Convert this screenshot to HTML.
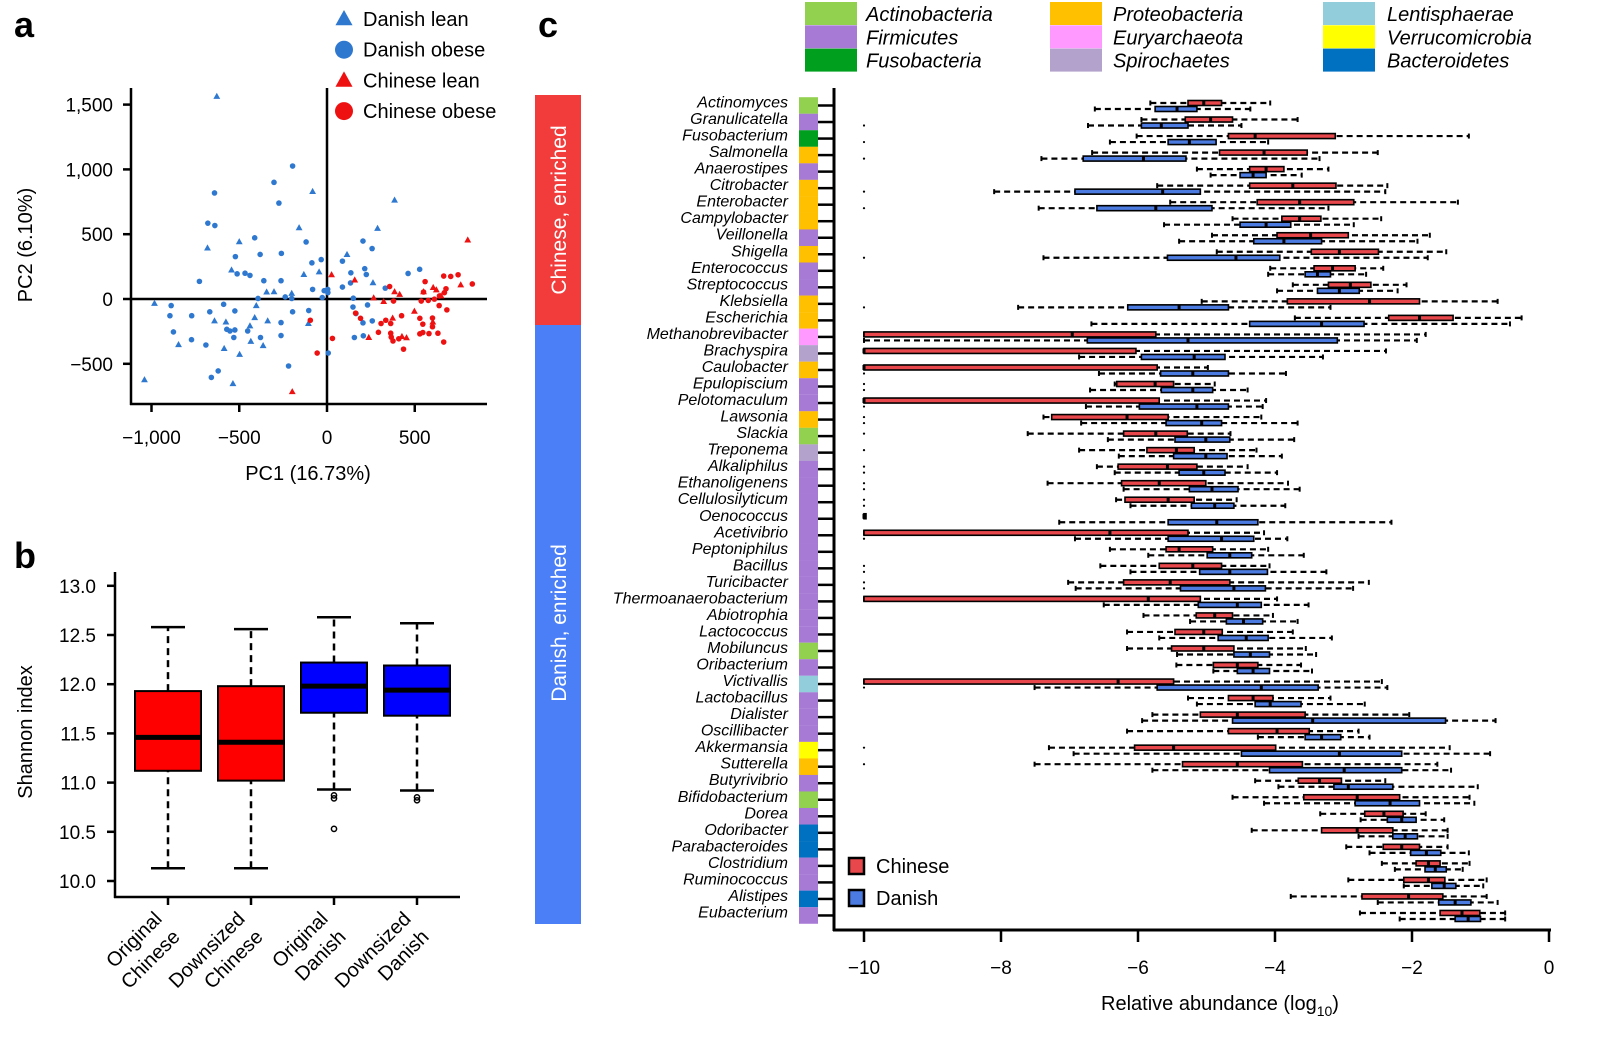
<!DOCTYPE html>
<html><head><meta charset="utf-8"><style>
html,body{margin:0;padding:0;background:#fff;}
svg{display:block;font-family:"Liberation Sans",sans-serif;}
</style></head><body>
<svg id="fig" width="1619" height="1063" viewBox="0 0 1619 1063" xmlns="http://www.w3.org/2000/svg">
<text x="14" y="37" font-size="36" font-weight="bold">a</text>
<text x="14" y="568" font-size="36" font-weight="bold">b</text>
<text x="538" y="37" font-size="36" font-weight="bold">c</text>
<g id="pa"></g>
<g id="pb"></g>
<g id="pc"></g>
</svg>
<script>
const NS="http://www.w3.org/2000/svg";
function mk(parent,tag,attrs,txt){const e=document.createElementNS(NS,tag);for(const k in attrs)e.setAttribute(k,attrs[k]);if(txt!==undefined)e.textContent=txt;parent.appendChild(e);return e;}

/* ---------- Panel a data ---------- */
const danishLean=[[-628,1564],[-82,830],[385,763],[-159,550],[288,545],[-500,442],[-681,394],[114,344],[-544,224],[-132,189],[-45,209],[262,126],[-344,54],[-302,56],[-201,44],[-983,-34],[-403,-51],[-641,-169],[-576,-177],[-412,-144],[-338,-169],[-439,-207],[-106,-189],[-846,-352],[-586,-382],[-434,-327],[-364,-360],[-498,-427],[-1040,-623],[-536,-653]];
const danishObese=[[-196,1026],[-302,900],[-641,818],[-274,740],[-679,585],[-639,567],[-412,472],[-119,440],[205,447],[-522,327],[-381,344],[-260,352],[257,389],[-86,279],[-33,304],[88,292],[-727,136],[-512,194],[-467,199],[-439,182],[-360,141],[-262,141],[136,202],[215,234],[224,189],[462,197],[528,229],[-82,74],[-16,64],[4,74],[5,49],[88,92],[134,124],[332,84],[-238,16],[-201,4],[-27,11],[-393,4],[150,6],[-888,-51],[-589,-41],[-525,-92],[-668,-99],[-895,-129],[-771,-129],[-196,-99],[-104,-89],[148,-62],[231,-46],[165,-112],[-875,-254],[-772,-314],[-690,-355],[-571,-234],[-553,-247],[-525,-239],[-452,-247],[-531,-297],[-379,-297],[-262,-182],[-262,-282],[205,-184],[258,-169],[156,-297],[207,-284],[7,-417],[-219,-517],[-659,-605],[-620,-555]];
const chineseLean=[[26,187],[158,147],[385,56],[414,36],[266,9],[323,-19],[802,455],[762,109],[605,89],[623,71],[550,56],[650,24],[498,-94],[374,-147],[603,-177],[238,-297],[427,-289],[453,-299],[-198,-715]];
const chineseObese=[[-95,-164],[31,-304],[-56,-417],[163,-109],[191,-149],[357,96],[379,-16],[425,-129],[308,-189],[335,-164],[363,-189],[293,-257],[363,-264],[366,-294],[376,-324],[409,-307],[436,-387],[559,134],[665,177],[705,174],[747,187],[828,116],[678,79],[669,49],[550,54],[537,-16],[577,-11],[612,-1],[639,-51],[683,-84],[529,-149],[546,-194],[601,-147],[601,-214],[529,-269],[546,-259],[581,-267],[632,-264],[665,-332],[641,24]];
const pcaXTicks=[-1000,-500,0,500];
const pcaXTickLabels=["\u22121,000","\u2212500","0","500"];
const pcaYTicks=[-500,0,500,1000,1500];
const pcaYTickLabels=["\u2212500","0","500","1,000","1,500"];

/* ---------- Panel b data ---------- */
const shannonGroups=["Original Chinese","Downsized Chinese","Original Danish","Downsized Danish"];
const shannonLine1=["Original","Downsized","Original","Downsized"];
const shannonLine2=["Chinese","Chinese","Danish","Danish"];
const shannonStats=[[10.13,11.12,11.46,11.93,12.58],[10.13,11.02,11.41,11.98,12.56],[10.93,11.71,11.98,12.22,12.68],[10.92,11.68,11.94,12.19,12.62]];
const shannonOutliers=[[],[],[10.87,10.84,10.53],[10.85,10.82]];
const shannonYTicks=[10.0,10.5,11.0,11.5,12.0,12.5,13.0];

/* ---------- Panel c data ---------- */
const genera=["Actinomyces","Granulicatella","Fusobacterium","Salmonella","Anaerostipes","Citrobacter","Enterobacter","Campylobacter","Veillonella","Shigella","Enterococcus","Streptococcus","Klebsiella","Escherichia","Methanobrevibacter","Brachyspira","Caulobacter","Epulopiscium","Pelotomaculum","Lawsonia","Slackia","Treponema","Alkaliphilus","Ethanoligenens","Cellulosilyticum","Oenococcus","Acetivibrio","Peptoniphilus","Bacillus","Turicibacter","Thermoanaerobacterium","Abiotrophia","Lactococcus","Mobiluncus","Oribacterium","Victivallis","Lactobacillus","Dialister","Oscillibacter","Akkermansia","Sutterella","Butyrivibrio","Bifidobacterium","Dorea","Odoribacter","Parabacteroides","Clostridium","Ruminococcus","Alistipes","Eubacterium"];
const phylumOf=["A","F","U","P","F","P","P","P","F","P","F","F","P","P","E","S","P","F","F","P","A","S","F","F","F","F","F","F","F","F","F","F","F","A","F","L","F","F","F","V","P","F","A","F","B","B","F","F","B","F"];
const chineseStats=[[-5.82,-5.27,-5.04,-4.78,-4.07],[-5.95,-5.31,-4.94,-4.62,-3.67],[-6.02,-4.68,-4.29,-3.12,-1.17],[-6.67,-4.81,-4.16,-3.53,-2.5],[-5.14,-4.37,-4.13,-3.87,-3.22],[-5.72,-4.37,-3.74,-3.11,-2.36],[-5.53,-4.26,-3.64,-2.85,-1.33],[-4.62,-3.9,-3.64,-3.33,-2.45],[-4.92,-3.97,-3.48,-2.93,-1.74],[-4.85,-3.47,-3.06,-2.49,-1.5],[-4.07,-3.43,-3.16,-2.83,-2.42],[-3.74,-3.22,-2.9,-2.6,-2.08],[-5.07,-3.82,-2.62,-1.89,-0.75],[-3.71,-2.34,-1.89,-1.4,-0.4],[-10,-10,-6.96,-5.74,-1.8],[-10,-10,-10,-6.03,-2.38],[-10,-10,-10,-5.72,-4.98],[-6.34,-6.31,-5.75,-5.48,-4.88],[-10,-10,-10,-5.69,-4.13],[-7.38,-7.26,-6.16,-5.56,-4.2],[-7.61,-6.21,-5.74,-5.28,-4.65],[-6.86,-5.87,-5.44,-5.18,-4.27],[-6.6,-6.29,-5.57,-5.14,-4.4],[-7.32,-6.24,-5.69,-5.01,-3.81],[-6.32,-6.19,-5.56,-5.18,-4.56],[-10,-10,-10,-10,-10],[-10,-10,-6.41,-5.27,-4.16],[-6.41,-5.59,-5.4,-4.91,-4.1],[-6.55,-5.69,-5.2,-4.78,-4.08],[-7.02,-6.21,-5.53,-4.66,-2.63],[-10,-10,-5.85,-5.09,-3.97],[-5.92,-5.15,-4.88,-4.62,-4.03],[-6.16,-5.46,-5.04,-4.77,-3.74],[-6.16,-5.51,-5.04,-4.6,-3.55],[-5.44,-4.9,-4.55,-4.25,-3.62],[-10,-10,-6.29,-5.48,-2.44],[-5.27,-4.68,-4.32,-4.03,-3.19],[-5.79,-5.09,-4.55,-3.56,-2.04],[-6.16,-4.68,-3.97,-3.5,-2.78],[-7.3,-6.05,-5.48,-3.99,-1.45],[-7.51,-5.35,-4.55,-3.6,-1.63],[-4.29,-3.66,-3.35,-3.03,-2.39],[-4.62,-3.58,-2.8,-2.18,-1.16],[-3.34,-2.69,-2.41,-2.13,-1.8],[-4.34,-3.32,-2.8,-2.28,-1.48],[-2.96,-2.42,-2.15,-1.89,-1.48],[-2.44,-1.94,-1.76,-1.59,-1.16],[-2.93,-2.12,-1.76,-1.52,-0.91],[-3.77,-2.73,-2.05,-1.55,-0.91],[-2.76,-1.59,-1.27,-1.01,-0.64]];
const danishStats=[[-6.63,-5.75,-5.43,-5.14,-4.36],[-6.73,-5.95,-5.66,-5.27,-4.49],[-6.41,-5.56,-5.25,-4.86,-4.1],[-7.41,-6.8,-5.92,-5.3,-3.35],[-4.94,-4.51,-4.32,-4.13,-3.61],[-8.1,-6.92,-5.64,-5.09,-2.39],[-7.45,-6.6,-5.74,-4.92,-3.22],[-5.62,-4.51,-4.13,-3.77,-2.85],[-5.4,-4.31,-3.87,-3.32,-1.92],[-7.38,-5.57,-4.57,-3.93,-1.77],[-4.1,-3.56,-3.38,-3.19,-2.67],[-3.97,-3.38,-3.06,-2.77,-2.21],[-7.75,-6.15,-5.4,-4.68,-3.19],[-6.68,-4.37,-3.32,-2.7,-0.57],[-10,-6.74,-5.27,-3.09,-1.93],[-6.86,-5.95,-5.18,-4.73,-3.3],[-6.57,-5.67,-5.2,-4.68,-3.84],[-6.7,-5.66,-5.2,-4.91,-4.4],[-6.76,-5.98,-5.14,-4.68,-4.18],[-6.83,-5.59,-5.07,-4.78,-3.67],[-6.44,-5.46,-5.01,-4.66,-3.72],[-6.28,-5.48,-5.01,-4.7,-3.9],[-6.34,-5.4,-5.04,-4.73,-3.97],[-6.21,-5.25,-4.92,-4.54,-3.64],[-6.11,-5.22,-4.88,-4.6,-3.85],[-7.15,-5.56,-4.85,-4.25,-2.3],[-6.92,-5.56,-4.78,-4.31,-3.82],[-5.85,-4.99,-4.66,-4.34,-3.58],[-6.11,-5.1,-4.66,-4.11,-3.25],[-6.91,-5.38,-4.6,-4.14,-2.86],[-6.5,-5.12,-4.55,-4.2,-3.51],[-5.24,-4.71,-4.46,-4.18,-3.67],[-5.69,-4.83,-4.42,-4.1,-3.17],[-5.43,-4.6,-4.36,-4.08,-3.4],[-4.9,-4.55,-4.32,-4.08,-3.46],[-7.51,-5.72,-4.2,-3.37,-2.36],[-5.14,-4.29,-4.07,-3.62,-2.69],[-5.94,-4.62,-3.45,-1.51,-0.78],[-4.25,-3.56,-3.32,-3.04,-2.62],[-6.94,-4.49,-3.06,-2.15,-0.86],[-5.79,-4.08,-2.99,-2.15,-1.43],[-3.95,-3.14,-2.93,-2.28,-1.04],[-4.16,-2.83,-2.32,-1.89,-1.09],[-2.75,-2.36,-2.15,-1.94,-1.53],[-2.78,-2.28,-2.1,-1.92,-1.48],[-2.62,-2.02,-1.79,-1.58,-1.17],[-2.25,-1.81,-1.66,-1.5,-1.26],[-2.12,-1.71,-1.53,-1.36,-0.96],[-2.5,-1.61,-1.37,-1.14,-0.75],[-2.18,-1.37,-1.18,-1.0,-0.64]];
const chineseZeroOutlierRows=[17,19,20,21,22,23,24,28,29,39,40];
const danishZeroOutlierRows=[1,2,3,5,6,9,12,14,16,17,18,19,22,23,24,26,28,29,35];
const abundanceTicks=[-10,-8,-6,-4,-2,0];
const phylumCodes=["A","F","U","P","E","S","L","V","B"];
const phylumNames=["Actinobacteria","Firmicutes","Fusobacteria","Proteobacteria","Euryarchaeota","Spirochaetes","Lentisphaerae","Verrucomicrobia","Bacteroidetes"];
const phylumColors=["#92d050","#a77ad6","#00a01e","#ffc000","#ff99ff","#b3a2cc","#92cddc","#ffff00","#0070c0"];

/* ================= Panel a ================= */
(function(){
  const g=document.getElementById('pa');
  const X=v=>327+v*0.1755, Y=v=>299-v*0.1296;
  mk(g,'line',{x1:131,y1:88,x2:131,y2:405,stroke:'#000','stroke-width':2.5,});
  mk(g,'line',{x1:130,y1:404,x2:487,y2:404,stroke:'#000','stroke-width':2.5,});
  mk(g,'line',{x1:X(0),y1:88,x2:X(0),y2:404,stroke:'#000','stroke-width':2.5,});
  mk(g,'line',{x1:131,y1:Y(0),x2:487,y2:Y(0),stroke:'#000','stroke-width':2.5,});
  pcaXTicks.forEach((t,i)=>{
    const l=mk(g,'line',{x1:X(t),y1:404,x2:X(t),y2:412,stroke:'#000','stroke-width':2.5});
    
    
    const tx=mk(g,'text',{x:X(t),y:444,'font-size':19,'text-anchor':'middle'},pcaXTickLabels[i]);
    
    
  });
  pcaYTicks.forEach((t,i)=>{
    const l=mk(g,'line',{x1:123,y1:Y(t),x2:131,y2:Y(t),stroke:'#000','stroke-width':2.5});
    
    
    const tx=mk(g,'text',{x:113,y:Y(t)+7,'font-size':19,'text-anchor':'end'},pcaYTickLabels[i]);
    
    
  });
  mk(g,'text',{x:308,y:480,'font-size':20,'text-anchor':'middle',},'PC1 (16.73%)');
  mk(g,'text',{x:32,y:245,'font-size':20,'text-anchor':'middle',transform:'rotate(-90 32 245)',},'PC2 (6.10%)');
  function tri(x,y,s,c,name){const p=mk(g,'polygon',{points:`${x},${y-s} ${x-s*0.95},${y+s*0.7} ${x+s*0.95},${y+s*0.7}`,fill:c});return p;}
  function dot(x,y,r,c,name){const p=mk(g,'circle',{cx:x,cy:y,r:r,fill:c});return p;}
  const BL='#2f78d0', RD='#ee1111';
  danishObese.forEach(p=>dot(X(p[0]),Y(p[1]),2.8,BL,'danish-obese-point'));
  danishLean.forEach(p=>tri(X(p[0]),Y(p[1]),3.6,BL,'danish-lean-point'));
  chineseObese.forEach(p=>dot(X(p[0]),Y(p[1]),2.8,RD,'chinese-obese-point'));
  chineseLean.forEach(p=>tri(X(p[0]),Y(p[1]),3.6,RD,'chinese-lean-point'));
  const leg=[['Danish lean','t',BL],['Danish obese','c',BL],['Chinese lean','t',RD],['Chinese obese','c',RD]];
  leg.forEach((L,i)=>{
    const y=19+i*30.7;
    if(L[1]==='t') tri(344,y,9,L[2],'legend-marker'); else dot(344,y,9,L[2],'legend-marker');
    const t=mk(g,'text',{x:363,y:y+7,'font-size':20},L[0]);
    
    
  });
})();

/* ================= Panel b ================= */
(function(){
  const g=document.getElementById('pb');
  const Y=v=>881-(v-10)*98.4;
  const cx=[168,251,334,417];
  mk(g,'line',{x1:115,y1:572,x2:115,y2:898,stroke:'#000','stroke-width':2.5,});
  mk(g,'line',{x1:114,y1:897,x2:460,y2:897,stroke:'#000','stroke-width':2.5,});
  shannonYTicks.forEach(t=>{
    const l=mk(g,'line',{x1:107,y1:Y(t),x2:115,y2:Y(t),stroke:'#000','stroke-width':2.5});
    
    
    const tx=mk(g,'text',{x:96,y:Y(t)+7,'font-size':19,'text-anchor':'end'},t.toFixed(1));
    
    
  });
  mk(g,'text',{x:32,y:732,'font-size':20,'text-anchor':'middle',transform:'rotate(-90 32 732)',},'Shannon index');
  shannonStats.forEach((s,i)=>{
    const x=cx[i], col=i<2?'#ff0000':'#0000ff';
    const bg=mk(g,'g',{});
    
    
    mk(bg,'line',{x1:x,y1:Y(s[0]),x2:x,y2:Y(s[1]),stroke:'#000','stroke-width':2.5,'stroke-dasharray':'7,5'});
    mk(bg,'line',{x1:x,y1:Y(s[3]),x2:x,y2:Y(s[4]),stroke:'#000','stroke-width':2.5,'stroke-dasharray':'7,5'});
    mk(bg,'line',{x1:x-17,y1:Y(s[0]),x2:x+17,y2:Y(s[0]),stroke:'#000','stroke-width':2.5});
    mk(bg,'line',{x1:x-17,y1:Y(s[4]),x2:x+17,y2:Y(s[4]),stroke:'#000','stroke-width':2.5});
    mk(bg,'rect',{x:x-33,y:Y(s[3]),width:66,height:Y(s[1])-Y(s[3]),fill:col,stroke:'#000','stroke-width':2});
    mk(bg,'line',{x1:x-33,y1:Y(s[2]),x2:x+33,y2:Y(s[2]),stroke:'#000','stroke-width':5});
    shannonOutliers[i].forEach(o=>{const c=mk(bg,'circle',{cx:x,cy:Y(o),r:2.6,fill:'none',stroke:'#000','stroke-width':1.5});});
    const tk=mk(g,'line',{x1:x,y1:897,x2:x,y2:905,stroke:'#000','stroke-width':2.5});
    
    
    const a=mk(g,'text',{x:x-5,y:920,'font-size':20,'text-anchor':'end',transform:`rotate(-45 ${x-5} 920)`},shannonLine1[i]);
    
    
    const b=mk(g,'text',{x:x+13,y:938,'font-size':20,'text-anchor':'end',transform:`rotate(-45 ${x+13} 938)`},shannonLine2[i]);
    
    
  });
})();

/* ================= Panel c ================= */
(function(){
  const g=document.getElementById('pc');
  const X=v=>1549+v*68.5;
  const rowY=i=>105.5+i*16.53;
  const colorOf=c=>phylumColors[phylumCodes.indexOf(c)];
  // side bars
  mk(g,'rect',{x:535,y:95,width:46,height:230,fill:'#f23c3c',});
  mk(g,'rect',{x:535,y:325,width:46,height:599,fill:'#4a7ff7',});
  mk(g,'text',{x:566,y:210,'font-size':21,fill:'#fff','text-anchor':'middle',transform:'rotate(-90 566 210)',},'Chinese, enriched');
  mk(g,'text',{x:566,y:623,'font-size':21,fill:'#fff','text-anchor':'middle',transform:'rotate(-90 566 623)',},'Danish, enriched');
  // phylum legend
  phylumNames.forEach((n,i)=>{
    const col=Math.floor(i/3), r=i%3;
    const sx=[805,1050,1323][col], tx=[866,1113,1387][col], y=2+r*23.3;
    const s=mk(g,'rect',{x:sx,y:y,width:52,height:23,fill:phylumColors[i]});
    
    
    const t=mk(g,'text',{x:tx,y:y+19,'font-size':20,'font-style':'italic'},n);
    
    
  });
  // axes
  mk(g,'line',{x1:834,y1:88,x2:834,y2:931,stroke:'#000','stroke-width':3,});
  mk(g,'line',{x1:833,y1:930,x2:1551,y2:930,stroke:'#000','stroke-width':3,});
  abundanceTicks.forEach(t=>{
    const l=mk(g,'line',{x1:X(t),y1:930,x2:X(t),y2:942,stroke:'#000','stroke-width':2.5});
    
    
    const tx=mk(g,'text',{x:X(t),y:974,'font-size':19,'text-anchor':'middle'},t<0?'\u2212'+(-t):String(t));
    
    
  });
  const xl=mk(g,'text',{x:1220,y:1010,'font-size':20,'text-anchor':'middle',},'Relative abundance (log');
  mk(xl,'tspan',{'font-size':14,dy:6},'10');
  mk(xl,'tspan',{dy:-6},')');
  function box(i,s,yc,fill,name){
    const bg=mk(g,'g',{});
    
    
    const h=5;
    mk(bg,'line',{x1:X(s[0]),y1:yc,x2:X(s[4]),y2:yc,stroke:'#000','stroke-width':2.2,'stroke-dasharray':'6,4'});
    mk(bg,'line',{x1:X(s[0]),y1:yc-2.5,x2:X(s[0]),y2:yc+2.5,stroke:'#000','stroke-width':2});
    mk(bg,'line',{x1:X(s[4]),y1:yc-2.5,x2:X(s[4]),y2:yc+2.5,stroke:'#000','stroke-width':2});
    const w=Math.max(X(s[3])-X(s[1]),2);
    mk(bg,'rect',{x:X(s[1]),y:yc-h/2,width:w,height:h,fill:fill,stroke:'#000','stroke-width':1.6});
    mk(bg,'line',{x1:X(s[2]),y1:yc-h/2,x2:X(s[2]),y2:yc+h/2,stroke:'#000','stroke-width':3});
  }
  genera.forEach((name,i)=>{
    const y=rowY(i);
    const st=mk(g,'rect',{x:799,y:y-8.3,width:19,height:16.6,fill:colorOf(phylumOf[i])});
    
    
    const tk=mk(g,'line',{x1:818,y1:y,x2:834,y2:y,stroke:'#000','stroke-width':2.5});
    
    
    const t=mk(g,'text',{x:788,y:y+2,'font-size':16,'font-style':'italic','text-anchor':'end'},name);
    
    
    box(i,chineseStats[i],y-2.5,'#e8474b','chinese-box');
    box(i,danishStats[i],y+3.5,'#4b7be0','danish-box');
  });
  chineseZeroOutlierRows.forEach(r=>{const c=mk(g,'circle',{cx:X(-10),cy:rowY(r)-2.5,r:1.1,fill:'#000'});});
  danishZeroOutlierRows.forEach(r=>{const c=mk(g,'circle',{cx:X(-10),cy:rowY(r)+3.5,r:1.1,fill:'#000'});});
  // group legend
  [['Chinese','#e8474b',866],['Danish','#4b7be0',898]].forEach(L=>{
    const r=mk(g,'rect',{x:849,y:L[2]-8,width:15,height:16,fill:L[1],stroke:'#000','stroke-width':2.5});
    
    
    const t=mk(g,'text',{x:876,y:L[2]+7,'font-size':20},L[0]);
    
    
  });
})();
</script>
</body></html>
